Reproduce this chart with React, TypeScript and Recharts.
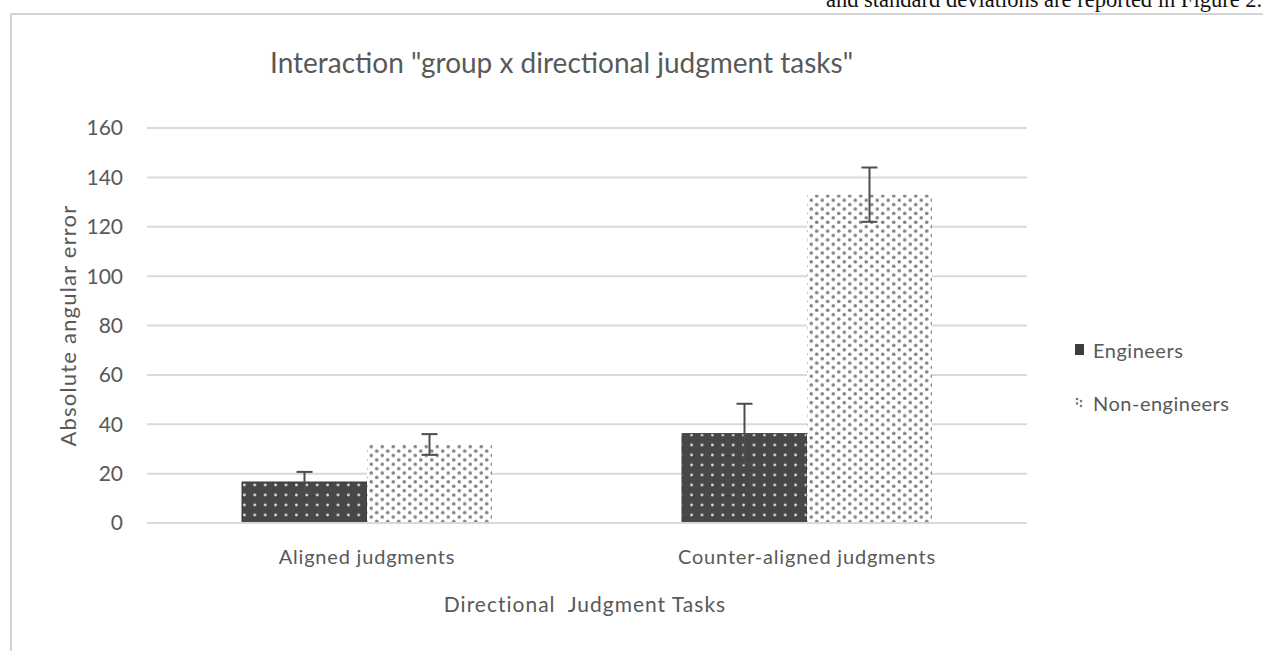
import React from "react";
import {
  BarChart,
  Bar,
  XAxis,
  YAxis,
  CartesianGrid,
  ErrorBar,
  Legend,
} from "recharts";

const categories = ["Aligned judgments", "Counter-aligned judgments"];
const seriesNames = ["Engineers", "Non-engineers"];
const engineers = [16.6, 36.2];
const engineersSd = [4.1, 12.1];
const nonEngineers = [31.8, 133];
const nonEngineersSd = [4.2, 11];
const yTicks = [0, 20, 40, 60, 80, 100, 120, 140, 160];

const rows = categories.map((name, i) => ({
  name,
  eng: engineers[i],
  engSd: engineersSd[i],
  non: nonEngineers[i],
  nonSd: nonEngineersSd[i],
}));

const textColor = "#595959";
const font = "Lato, 'Open Sans', sans-serif";

const Patterns = () => (
  <defs>
    <pattern id="darkDots" patternUnits="userSpaceOnUse" width="10.4" height="10">
      <rect width="10.4" height="10" fill="#474747" />
      <circle cx="5.2" cy="5" r="1.4" fill="#d8d8d8" />
    </pattern>
    <pattern id="lightDots" patternUnits="userSpaceOnUse" width="11" height="8.8">
      <rect width="11" height="8.8" fill="#ffffff" />
      <circle cx="2.75" cy="2.2" r="1.8" fill="#858585" />
      <circle cx="8.25" cy="6.6" r="1.8" fill="#858585" />
    </pattern>
  </defs>
);

const LegendContent = () => (
  <div style={{ fontFamily: font, fontSize: 20, color: textColor, letterSpacing: 0.5 }}>
    {seriesNames.map((n, i) => (
      <div key={n} style={{ display: "flex", alignItems: "center", height: 53 }}>
        <svg width="10" height="11" style={{ marginRight: 8 }}>
          {i === 0 ? (
            <rect width="9" height="11" fill="#3d3d3d" />
          ) : (
            <g fill="#777">
              <circle cx="2" cy="2" r="1.3" />
              <circle cx="6" cy="4" r="1.3" />
              <circle cx="2" cy="6.5" r="1.3" />
              <circle cx="6" cy="9" r="1.3" />
            </g>
          )}
        </svg>
        <span>{n}</span>
      </div>
    ))}
  </div>
);

const YTitle = (props: any) => {
  const { viewBox } = props;
  const cx = viewBox.x + 67;
  const cy = viewBox.y + viewBox.height / 2;
  return (
    <text
      x={cx}
      y={cy}
      transform={`rotate(-90, ${cx}, ${cy})`}
      textAnchor="middle"
      dominantBaseline="central"
      fill={textColor}
      fontSize={22}
      letterSpacing={1.2}
      fontFamily={font}
    >
      Absolute angular error
    </text>
  );
};

const XTitle = (props: any) => {
  const { viewBox } = props;
  return (
    <text
      x={585}
      y={viewBox.y + 80}
      textAnchor="middle"
      dominantBaseline="central"
      fill={textColor}
      fontSize={21}
      letterSpacing={1}
      fontFamily={font}
      style={{ whiteSpace: "pre" }}
    >
      Directional  Judgment Tasks
    </text>
  );
};

export default function App() {
  return (
    <div
      style={{
        position: "absolute",
        left: 0,
        top: 0,
        width: 1263,
        height: 651,
        overflow: "hidden",
        background: "#fff",
      }}
    >
      <div
        style={{
          position: "absolute",
          left: 826,
          top: -13,
          fontFamily: "'Liberation Serif', serif",
          fontSize: 22.5,
          whiteSpace: "nowrap",
          color: "#111",
        }}
      >
        and standard deviations are reported in Figure 2.
      </div>
      <div
        style={{
          position: "absolute",
          left: 10,
          top: 13,
          width: 1300,
          height: 700,
          borderTop: "2px solid #d4d4d4",
          borderLeft: "2px solid #d4d4d4",
        }}
      />
      <div
        style={{
          position: "absolute",
          left: 270,
          top: 45,
          fontFamily: font,
          fontSize: 28,
          color: textColor,
          whiteSpace: "nowrap",
        }}
      >
        Interaction "group x directional judgment tasks"
      </div>
      <div style={{ position: "absolute", left: 0, top: 0 }}>
        <BarChart
          width={1263}
          height={651}
          data={rows}
          barGap={0}
          barSize={125}
          margin={{ top: 128, right: 236, bottom: 38, left: 0 }}
        >
          <Patterns />
          <CartesianGrid vertical={false} stroke="#d9d9d9" strokeWidth={2} />
          <XAxis
            dataKey="name"
            height={90}
            axisLine={{ stroke: "#d9d9d9", strokeWidth: 2 }}
            tickLine={false}
            tickMargin={21}
            tick={{ fill: textColor, fontSize: 20, fontFamily: font, letterSpacing: 0.8 }}
            label={<XTitle />}
          />
          <YAxis
            width={147}
            domain={[0, 160]}
            ticks={yTicks}
            axisLine={false}
            tickLine={false}
            tickMargin={18}
            tick={{ fill: textColor, fontSize: 21, fontFamily: font }}
            label={<YTitle />}
          />
          <Legend
            layout="vertical"
            align="center"
            verticalAlign="middle"
            wrapperStyle={{ left: 1075, top: 323, width: 185 }}
            content={<LegendContent />}
          />
          <Bar
            dataKey="eng"
            name={seriesNames[0]}
            fill="url(#darkDots)"
            stroke="#3a3a3a"
            strokeWidth={1}
            isAnimationActive={false}
          >
            <ErrorBar dataKey="engSd" width={8} stroke="#4d4d4d" strokeWidth={2} direction="y" />
          </Bar>
          <Bar
            dataKey="non"
            name={seriesNames[1]}
            fill="url(#lightDots)"
            isAnimationActive={false}
          >
            <ErrorBar dataKey="nonSd" width={8} stroke="#4d4d4d" strokeWidth={2} direction="y" />
          </Bar>
        </BarChart>
      </div>
    </div>
  );
}
